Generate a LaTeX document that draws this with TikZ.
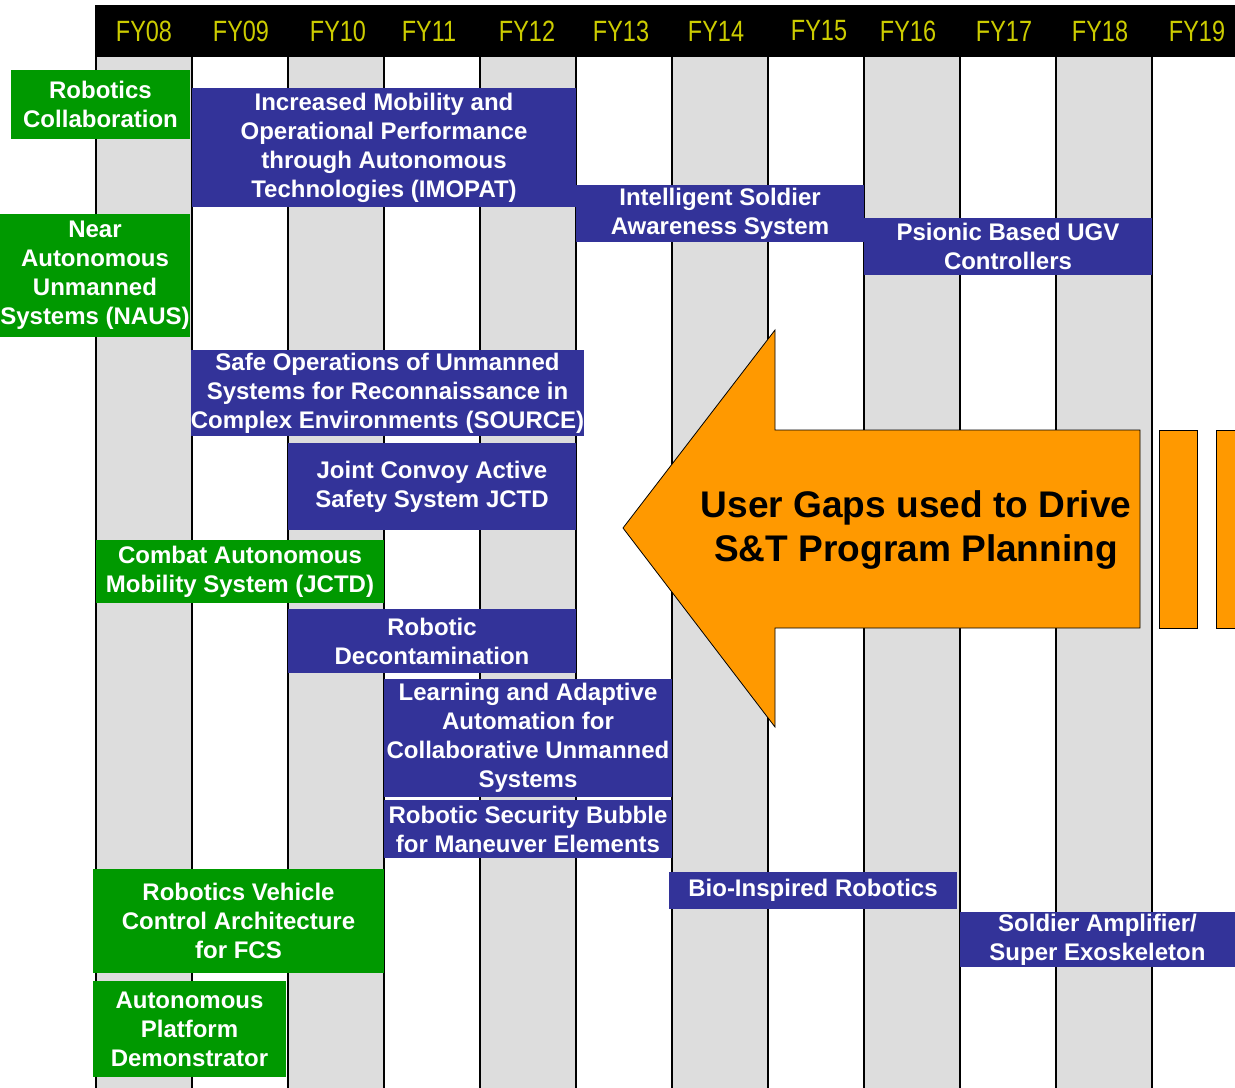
\documentclass[tikz,border=0pt]{standalone}
\usepackage{fontspec}
\setmainfont{Liberation Sans}
\newfontfamily\hdrfont[FakeStretch=0.8]{Liberation Sans}
\definecolor{boxblue}{RGB}{51,51,153}
\definecolor{boxgreen}{RGB}{0,153,0}
\definecolor{colgray}{RGB}{221,221,221}
\definecolor{hdryellow}{RGB}{204,204,0}
\definecolor{arroworange}{RGB}{255,153,0}
\newcommand\boxfont{\fontsize{18}{21.75}\selectfont\bfseries}
\newcommand\mybox[7]{\node[#2, minimum width={(#5-#3)*0.75pt}, minimum height={(#6-#4)*0.75pt}] (#1) at ({(#3+#5)/2},{(#4+#6)/2}) {#7};}
\begin{document}
\begin{tikzpicture}[x=0.75pt,y=-0.75pt,
  basebox/.style={text=white, font=\boxfont, align=center, inner sep=0pt, draw=none},
  bluebox/.style={basebox, fill=boxblue},
  greenbox/.style={basebox, fill=boxgreen},
  hdr/.style={text=hdryellow, font=\hdrfont\fontsize{22}{24}\selectfont, inner sep=0pt},
  colline/.style={line width=1.5pt, black},
  arrowshape/.style={fill=arroworange, draw=black, line width=0.6pt}]
\useasboundingbox (0,0) rectangle (1235,1088);
\clip (0,0) rectangle (1235,1088);
% columns
\foreach \i in {0,2,4,6,8,10}
  \fill[colgray] ({96+96*\i},57) rectangle ++(96,1031);
\foreach \i in {0,...,12}
  \draw[colline] ({96+96*\i},57) -- ++(0,1031);
% header
\fill[black] (95,5) rectangle (1235,57);
\node[hdr] (h08) at (144,31) {FY08};
\node[hdr] (h09) at (241,31) {FY09};
\node[hdr] (h10) at (338,31) {FY10};
\node[hdr] (h11) at (429,31) {FY11};
\node[hdr] (h12) at (527,31) {FY12};
\node[hdr] (h13) at (621,31) {FY13};
\node[hdr] (h14) at (716,31) {FY14};
\node[hdr] (h15) at (819,31) {FY15};
\node[hdr] (h16) at (908,31) {FY16};
\node[hdr] (h17) at (1004,31) {FY17};
\node[hdr] (h18) at (1100,31) {FY18};
\node[hdr] (h19) at (1197,31) {FY19};
% boxes
\mybox{rc}{greenbox}{11}{70}{190}{139}{Robotics\\Collaboration}
\mybox{imopat}{bluebox}{192}{88}{576}{207}{Increased Mobility and\\Operational Performance\\through Autonomous\\Technologies (IMOPAT)}
\mybox{naus}{greenbox}{0}{214}{190}{337}{Near\\Autonomous\\Unmanned\\Systems (NAUS)}
\mybox{isas}{bluebox}{576}{185}{864}{242}{Intelligent Soldier\\Awareness System}
\mybox{psionic}{bluebox}{864}{218}{1152}{275}{Psionic Based UGV\\Controllers}
\mybox{source}{bluebox}{192}{350}{583}{436}{Safe Operations of Unmanned\\Systems for Reconnaissance in\\Complex Environments (SOURCE)}
\mybox{jcass}{bluebox}{288}{443}{576}{530}{Joint Convoy Active\\Safety System JCTD}
\mybox{cams}{greenbox}{96}{540}{384}{603}{Combat Autonomous\\Mobility System (JCTD)}
\mybox{decon}{bluebox}{288}{609}{576}{673}{Robotic\\Decontamination}
\mybox{laacus}{bluebox}{384}{679}{672}{797}{Learning and Adaptive\\Automation for\\Collaborative Unmanned\\Systems}
\mybox{rsb}{bluebox}{384}{800}{672}{858}{Robotic Security Bubble\\for Maneuver Elements}
\mybox{bio}{bluebox}{669}{872}{957}{909}{Bio-Inspired Robotics}
\mybox{rvca}{greenbox}{93}{869}{384}{973}{Robotics Vehicle\\Control Architecture\\for FCS}
\mybox{sa}{bluebox}{960}{912}{1235}{967}{Soldier Amplifier/\\Super Exoskeleton}
\mybox{apd}{greenbox}{93}{981}{286}{1077}{Autonomous\\Platform\\Demonstrator}
% arrow
\draw[arrowshape] (623,528) -- (775,330) -- (775,430) -- (1140,430) -- (1140,628) -- (775,628) -- (775,727) -- cycle;
\draw[arrowshape] (1159,430) rectangle (1197,628);
\draw[arrowshape] (1216,430) rectangle (1260,628);
\node[align=center, font=\fontsize{27.8}{33}\selectfont\bfseries, inner sep=0pt] (gaps) at (916,530) {User Gaps used to Drive\\S\&T Program Planning};
\end{tikzpicture}
\end{document}
